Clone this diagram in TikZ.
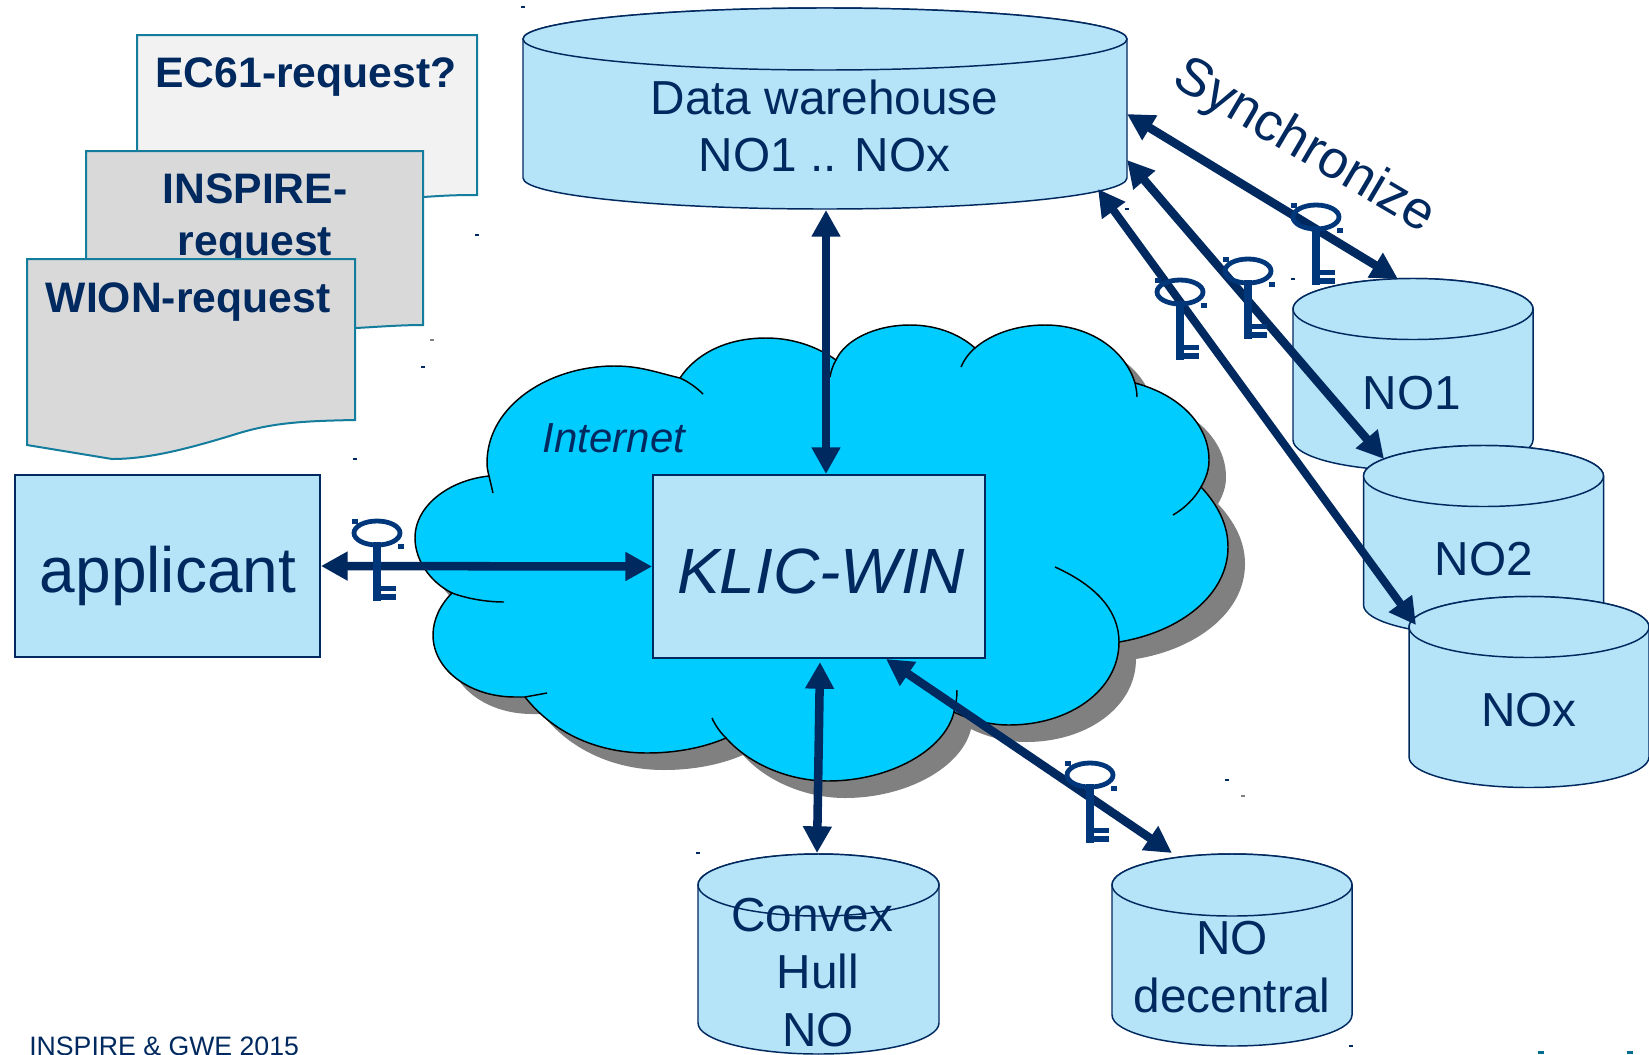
\documentclass[tikz,border=0pt]{standalone}
\usepackage{fontspec}
\setmainfont{Liberation Sans}
\usetikzlibrary{arrows.meta}
\definecolor{navy}{HTML}{00295F}
\definecolor{keyblue}{HTML}{00377B}
\definecolor{paleblue}{HTML}{B5E3F8}
\definecolor{cloudblue}{HTML}{00CCFF}
\definecolor{teal}{HTML}{147D9E}
\definecolor{speckteal}{HTML}{006C8E}
\tikzset{
  txtbig/.style={text=navy,inner sep=0pt,anchor=base,align=center,font=\fontsize{35.8pt}{43pt}\selectfont},
  txtdoc/.style={text=navy,inner sep=0pt,anchor=base,align=center,font=\fontsize{32pt}{39pt}\selectfont\bfseries},
  docshape/.style={draw=teal,line width=1.5pt,line join=miter},
  boxst/.style={draw=navy,fill=paleblue,line width=1.4pt,inner sep=0pt},
  cylst/.style={draw=navy,fill=paleblue,line width=1.1pt},
  cloudst/.style={draw=black,fill=cloudblue,line width=1.1pt},
  cloudtail/.style={draw=black,line width=1.1pt},
  biarrow/.style={draw=navy,line width=6.4pt,{Triangle[length=20pt,width=20.5pt]}-{Triangle[length=20pt,width=20.5pt]},shorten <=0pt,shorten >=0pt},
  keyglyph/.pic={
    \draw[keyblue,line width=3.6pt] (0,0) ellipse[x radius=23,y radius=12];
    \fill[keyblue] (-4,9) rectangle (4,68);
    \fill[keyblue] (4,53) rectangle (19,58);
    \fill[keyblue] (4,61) rectangle (19,66.5);
    \fill[keyblue] (-25,-14.5) rectangle (-19,-9.5);
    \fill[keyblue] (21,10.5) rectangle (27,15.5);
  }
}
% name, centre x, x radius, ellipse centre y, side bottom y, y radius
\newcommand\dbcyl[6]{%
  \path[cylst] ({#2-#3},#4) -- ({#2-#3},#5)
     arc[start angle=180,end angle=0,x radius=#3,y radius=#6] -- ({#2+#3},#4)
     arc[start angle=0,end angle=-180,x radius=#3,y radius=#6] -- cycle;
  \path[cylst] (#2,#4) ellipse[x radius=#3,y radius=#6];
  \coordinate (#1) at (#2,#4);
}
\begin{document}
\begin{tikzpicture}[x=0.75pt,y=-0.75pt]
\useasboundingbox (0,0) rectangle (1649,1054);
\fill[white] (0,0) rectangle (1649,1054);

% request documents
\path[docshape,fill=black!5] (137,35) -- (477,35) -- (477,195)
   .. controls (450,195) and (440,196) .. (423,197) -- (137,210) -- cycle;
\node[txtdoc] (ecreq) at (306,87) {EC61-request?};
\path[docshape,fill=black!15] (86,151) -- (423,151) -- (423,325)
   .. controls (400,325) and (375,327) .. (356,328) -- (86,340) -- cycle;
\node[txtdoc] (inspreq) at (255,255) {INSPIRE-\\request};
\path[docshape,fill=black!15] (27,259) -- (355,259) -- (355,420)
   .. controls (300,421) and (270,423) .. (233,435)
   .. controls (190,448) and (150,459) .. (112,459)
   -- (27,445) -- cycle;
\node[txtdoc] (wionreq) at (188,312) {WION-request};

% cloud
\def\cloudpath{
  (489,476) .. controls (450,480) and (415,505) .. (415,538)
  .. controls (415,560) and (430,582) .. (452,593)
  .. controls (440,605) and (433,620) .. (433,635)
  .. controls (433,670) and (470,697) .. (515,697)
  .. controls (518,697) and (522,697) .. (525,697)
  .. controls (555,735) and (600,753) .. (647,753)
  .. controls (675,753) and (703,748) .. (726,738)
  .. controls (750,765) and (790,781) .. (828,781)
  .. controls (890,781) and (945,750) .. (954,712)
  .. controls (970,720) and (990,725) .. (1009,725)
  .. controls (1070,725) and (1119,690) .. (1119,642)
  .. controls (1180,632) and (1228,595) .. (1228,547)
  .. controls (1228,525) and (1218,505) .. (1201,487)
  .. controls (1206,478) and (1209,470) .. (1209,460)
  .. controls (1209,425) and (1180,395) .. (1135,383)
  .. controls (1125,350) and (1090,325) .. (1045,325)
  .. controls (1015,325) and (990,335) .. (975,348)
  .. controls (958,333) and (935,325) .. (910,325)
  .. controls (875,325) and (845,340) .. (836,360)
  .. controls (815,345) and (790,338) .. (766,338)
  .. controls (725,338) and (695,355) .. (680,378)
  .. controls (655,372) and (640,366) .. (614,366)
  .. controls (550,366) and (487,405) .. (487,463)
  .. controls (487,468) and (488,472) .. (489,476) -- cycle}
\fill[gray,xshift=12.75pt,yshift=-12.75pt] \cloudpath;
\path[cloudst] \cloudpath;
\draw[cloudtail] (489,476) -- (493,493);
\draw[cloudtail] (452,593) .. controls (465,598) and (485,602) .. (504,602);
\draw[cloudtail] (525,697) -- (547,693);
\draw[cloudtail] (726,738) .. controls (720,732) and (715,725) .. (712,718);
\draw[cloudtail] (954,712) .. controls (956,705) and (957,697) .. (957,690);
\draw[cloudtail] (1119,642) .. controls (1119,610) and (1095,585) .. (1055,567);
\draw[cloudtail] (1201,487) .. controls (1195,498) and (1185,508) .. (1173,515);
\draw[cloudtail] (1135,383) .. controls (1136,388) and (1137,392) .. (1137,397);
\draw[cloudtail] (975,348) .. controls (969,353) and (964,360) .. (961,367);
\draw[cloudtail] (836,360) .. controls (833,365) and (831,371) .. (830,377);
\draw[cloudtail] (680,378) .. controls (689,382) and (697,388) .. (703,394);
\node[text=navy,inner sep=0pt,anchor=base,font=\fontsize{31.5pt}{39pt}\selectfont\itshape] (internet) at (614,452) {Internet};

% boxes
\node[boxst,minimum width=228.75pt,minimum height=136pt] (applicant) at (167.5,566) {};
\node[text=navy,inner sep=0pt,anchor=base,font=\fontsize{48pt}{56pt}\selectfont] (applicantlabel) at (168,592) {applicant};
\node[boxst,minimum width=249pt,minimum height=137pt] (klic) at (819,566.5) {};
\node[text=navy,inner sep=0pt,anchor=base,font=\fontsize{48pt}{56pt}\selectfont\itshape] (kliclabel) at (821,593) {KLIC-WIN};

% databases
\dbcyl{dw}{825}{302}{39}{178}{31}
\node[txtbig] (dwlabel) at (824.5,171.5) {Data warehouse\\NO1 .. NOx};
\dbcyl{noone}{1413}{120}{309}{440}{30.5}
\node[txtbig] (nolabelone) at (1412,409) {NO1};
\dbcyl{notwo}{1483.5}{120}{476}{605}{30.5}
\node[txtbig] (nolabeltwo) at (1484,575) {NO2};
\dbcyl{nox}{1529}{120}{627}{757}{30.5}
\node[txtbig] (nolabelx) at (1529,726) {NOx};
\dbcyl{convex}{818.5}{120.5}{885}{1023}{31}
\node[txtbig] (convexlabel) at (818,1046) {\mbox{Convex\kern9pt}\\Hull\\NO};
\dbcyl{decentral}{1232}{120}{885}{1015}{31}
\node[txtbig] (decentrallabel) at (1232,1012) {NO\\decentral};

\node[text=navy,inner sep=0pt,rotate=-30.5,font=\fontsize{40pt}{48pt}\selectfont] (sync) at (1304,147) {Synchronize};

% connector end points on the database edges
\coordinate (dwa) at (1127,114);
\coordinate (dwb) at (1127,160);
\coordinate (dwc) at (1098,189);
\coordinate (dwd) at (826,210);
\coordinate (noonetop) at (1398,279);
\coordinate (notwotop) at (1384,459);
\coordinate (noxtop) at (1416,625);
\coordinate (klictop) at (826,474);
\coordinate (klicbota) at (820,662);
\coordinate (klicbotb) at (886,659);
\coordinate (convextop) at (817,853);
\coordinate (decentraltop) at (1172,853);

\draw[biarrow] (applicant.east) -- (klic.west);
\draw[biarrow] (dwd) -- (klictop);
\draw[biarrow] (klicbota) -- (convextop);
\draw[biarrow] (klicbotb) -- (decentraltop);
\draw[biarrow] (dwa) -- (noonetop);
\draw[biarrow] (dwb) -- (notwotop);
\draw[biarrow,line width=6pt] (dwc) -- (noxtop);

% keys
\pic at (377,533) {keyglyph};
\pic at (1316,217) {keyglyph};
\pic at (1248,271) {keyglyph};
\pic at (1180,292) {keyglyph};
\pic at (1090,775) {keyglyph};

% footer
\node[text=navy,inner sep=0pt,anchor=base west,font=\fontsize{20pt}{24pt}\selectfont] (footer) at (29,1055) {INSPIRE \& GWE 2015};

% specks
\foreach \a/\b in {523/7,477/235,423/367,355/459,698/853,1227/780,1127/209,1293/279,1351/1046}
  \fill[navy] (\a-2,\b-1) rectangle (\a+2,\b+1);
\foreach \a/\b in {432/340,1243/796}
  \fill[gray] (\a-2,\b-1) rectangle (\a+2,\b+1);
\foreach \a in {1541,1630}
  \fill[speckteal] (\a-3,1051) rectangle (\a+3,1054);
\end{tikzpicture}
\end{document}
